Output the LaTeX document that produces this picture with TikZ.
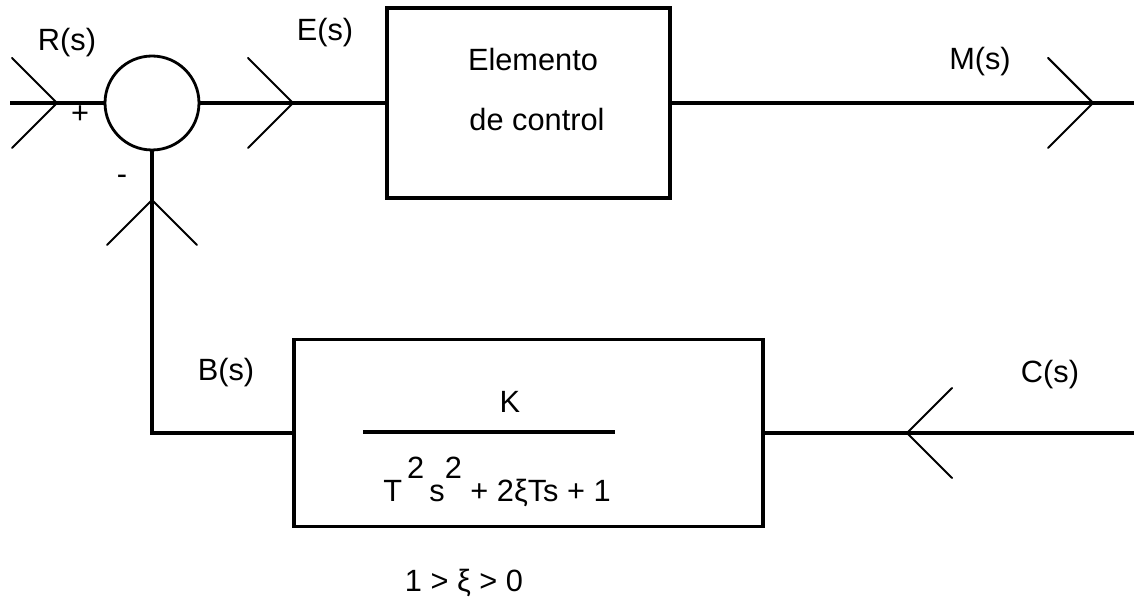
\documentclass[tikz,border=0pt]{standalone}
\usepackage{fontspec}
\setmainfont{Liberation Sans}
\usepackage{tikz}

\tikzset{
  linea/.style={line width=2pt},
  bloque/.style={draw, line width=2pt, inner sep=0pt},
  etiq/.style={font=\fontsize{17.5}{20}\selectfont},
  punta/.pic={\draw[line width=1.2pt, line cap=round] (-45,-45) -- (0,0) -- (-45,45);}
}

\begin{document}
\begin{tikzpicture}[x=0.02cm,y=-0.02cm]
\useasboundingbox (0,0) rectangle (1134,604);

\coordinate (r) at (10,103);
\coordinate (m) at (1134,103);
\coordinate (c) at (1134,433);
\node[circle, draw, line width=1.6pt, minimum size=1.88cm, inner sep=0pt] (suma) at (152,103) {};
\node[bloque, minimum width=5.66cm, minimum height=3.8cm] (control) at (528.5,103) {};
\node[bloque, minimum width=9.38cm, minimum height=3.74cm] (retro) at (528.5,433) {};

\draw[linea] (r) -- (suma.west);
\draw[linea] (suma.east) -- (control.west);
\draw[linea] (control.east) -- (m);
\draw[linea] (c) -- (retro.east);
\draw[linea] (retro.west) -| (suma.south);

\pic at (57,103) {punta};
\pic at (293,103) {punta};
\pic at (1093,103) {punta};
\pic[rotate=90] at (152,200) {punta};
\pic[rotate=180] at (907,433) {punta};

\node[etiq] (lr) at (67,43) {R(s)};
\node[etiq] (le) at (325,33) {E(s)};
\node[etiq] (lm) at (980,62) {M(s)};
\node[etiq] (lb) at (226,373) {B(s)};
\node[etiq] (lc) at (1050,375) {C(s)};
\node[etiq] (mas) at (80,115) {+};
\node[etiq] (menos) at (122,180) {-};

\node[etiq] (elem) at (533,60) {Elemento};
\node[etiq] (ctrl) at (537,120) {de control};

\node[etiq] (num) at (510,402) {K};
\draw[linea] (363,432) -- (615,432);
\node[etiq, anchor=base] (den) at (497,502) {T\,\raisebox{0.48cm}{2}\,s\raisebox{0.48cm}{2} + 2ξTs + 1};
\node[etiq] (cond) at (464,583) {1 > ξ > 0};
\end{tikzpicture}
\end{document}
